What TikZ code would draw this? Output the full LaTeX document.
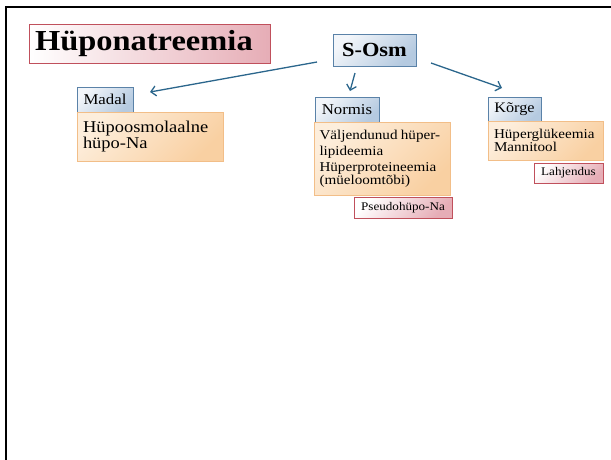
\documentclass[tikz,border=0pt]{standalone}
\usepackage{fontspec}
\setmainfont{Liberation Serif}[FakeStretch=1.12]
\usetikzlibrary{arrows.meta}
\definecolor{arrowc}{HTML}{2B668C}
\definecolor{bluelt}{HTML}{F3F6FA}
\definecolor{bluedk}{HTML}{B5CAE0}
\definecolor{blueln}{HTML}{5A82A8}
\definecolor{orlt}{HTML}{FDEEDC}
\definecolor{ordk}{HTML}{F9D0A2}
\definecolor{orln}{HTML}{F2BE88}
\definecolor{pklt}{HTML}{FFFFFF}
\definecolor{pkdk}{HTML}{E6ADB6}
\definecolor{pkln}{HTML}{C0505C}
\tikzset{
  bluebox/.style={draw=blueln, line width=0.9pt, top color=bluelt, bottom color=bluedk, shading angle=45, inner sep=0pt, align=center},
  orbox/.style={draw=orln, line width=0.9pt, top color=orlt, bottom color=ordk, shading angle=45, inner xsep=6pt, inner ysep=0pt, align=left},
  pkbox/.style={draw=pkln, line width=0.9pt, top color=pklt, bottom color=pkdk, shading angle=45, inner sep=0pt, align=center},
  titlebox/.style={draw=pkln, line width=0.9pt, left color=white, right color=pkdk, inner xsep=6pt, inner ysep=0pt, align=left},
  arr/.style={draw=arrowc, line width=1.3pt, -{Straight Barb[length=5pt,width=10pt]}}
}
\begin{document}
\begin{tikzpicture}[x=1pt,y=-1pt]
\useasboundingbox (0,0) rectangle (611,459);
\draw[line width=2.7pt, line cap=rect] (6,459) -- (6,7) -- (611,7);

\node[titlebox, minimum width=241pt, minimum height=39pt, text width=229pt] (title) at (149.5,43.5)
  {\fontsize{29}{32}\selectfont\bfseries Hüponatreemia};
\node[bluebox, minimum width=83pt, minimum height=32pt] (sosm) at (374.5,50)
  {\fontsize{20}{22}\selectfont\bfseries S-Osm};

\node[bluebox, minimum width=56pt, minimum height=25pt] (madal) at (105,99.5)
  {\fontsize{15}{17}\selectfont Madal};
\node[orbox, minimum width=146pt, minimum height=49pt, text width=134pt] (madalc) at (150,136.5)
  {\fontsize{16.5}{19}\selectfont Hüpoosmolaalne\\hüpo-Na};

\node[bluebox, minimum width=64pt, minimum height=25pt] (normis) at (347,109.5)
  {\fontsize{15}{17}\selectfont Normis};
\node[orbox, minimum width=136pt, minimum height=73pt, text width=125pt, inner xsep=5.5pt] (normisc) at (382,158.5)
  {\fontsize{13.5}{16}\selectfont Väljendunud hüper-\\lipideemia\\Hüperproteineemia\\(müeloomtõbi)};
\node[pkbox, minimum width=98pt, minimum height=21pt] (pseudo) at (403,207.5)
  {\fontsize{11.7}{13}\selectfont Pseudohüpo-Na};

\node[bluebox, minimum width=53pt, minimum height=24pt] (korge) at (514.5,109)
  {\fontsize{14.5}{16}\selectfont Kõrge};
\node[orbox, minimum width=115pt, minimum height=39pt, text width=103pt] (korgec) at (545.5,140.5)
  {\fontsize{13.5}{16}\selectfont Hüperglükeemia\\Mannitool};
\node[pkbox, minimum width=69pt, minimum height=20pt] (lahj) at (568.5,173)
  {\fontsize{11.7}{13}\selectfont Lahjendus};

\coordinate (a1s) at (317,62);
\coordinate (a1e) at (150,92);
\coordinate (a2s) at (355,73);
\coordinate (a2e) at (350,91);
\coordinate (a3s) at (431,63);
\coordinate (a3e) at (502,88);
\draw[arr] (a1s) -- (a1e);
\draw[arr] (a2s) -- (a2e);
\draw[arr] (a3s) -- (a3e);
\end{tikzpicture}
\end{document}
